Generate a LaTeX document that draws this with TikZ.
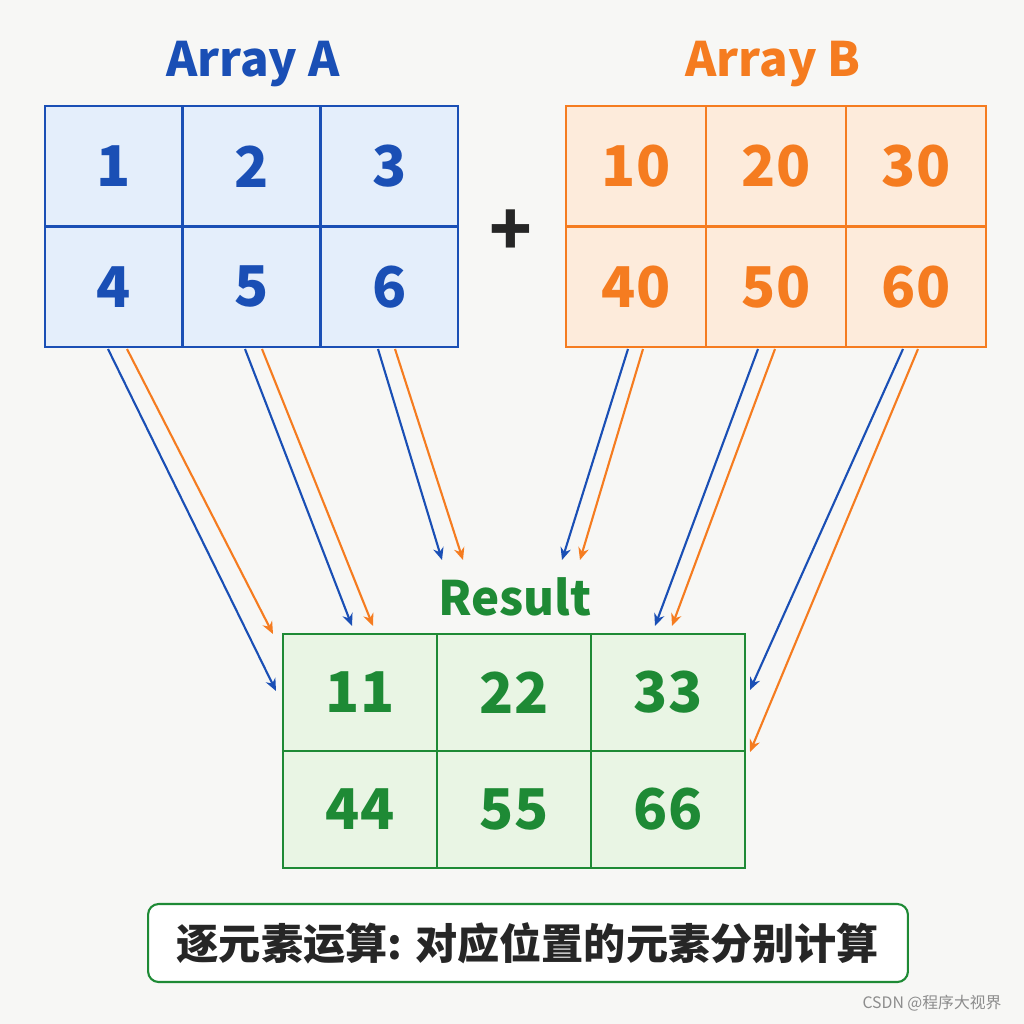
\documentclass[tikz,border=0pt]{standalone}
\usepackage{fontspec}
\usetikzlibrary{arrows.meta}
\setmainfont{Noto Sans CJK SC}
\definecolor{ablue}{HTML}{1A4FB5}
\definecolor{afill}{HTML}{E4EEFB}
\definecolor{borange}{HTML}{F57C20}
\definecolor{bfill}{HTML}{FDEBDB}
\definecolor{rgreen}{HTML}{1E8A35}
\definecolor{rfill}{HTML}{E9F5E4}
\definecolor{bg}{HTML}{F7F7F5}
\tikzset{
  cell/.style={draw, line width=1.4pt, inner sep=0pt, font=\fontsize{32}{32}\selectfont\bfseries},
  acell/.style={cell, ablue, fill=afill, minimum width=2.753cm, minimum height=2.41cm},
  bcell/.style={cell, borange, fill=bfill, minimum width=2.8cm, minimum height=2.41cm},
  rcell/.style={cell, rgreen, fill=rfill, minimum width=3.08cm, minimum height=2.34cm},
  title/.style={font=\fontsize{27}{27}\selectfont\bfseries},
  ar/.style={-{Stealth[length=7pt,width=6pt]}, line width=1.2pt},
}
\begin{document}
\begin{tikzpicture}[x=0.02cm, y=-0.02cm]
\fill[bg] (0,0) rectangle (1024,1024);
\useasboundingbox (0,0) rectangle (1024,1024);
%titles
\node[title, ablue] (ta) at (253,64) {Array A};
\node[title, borange] (tb) at (773,64) {Array B};
\node[title, rgreen] (tr) at (515,597) {Result};
\node[font=\fontsize{40}{40}\selectfont\bfseries, text=black!85] (plus) at (511,233) {+};
%cells
\foreach \v [count=\i from 0] in {1,2,3,4,5,6}{
  \pgfmathtruncatemacro{\c}{mod(\i,3)}
  \pgfmathtruncatemacro{\r}{div(\i,3)}
  \node[acell] (a\i) at ({45+68.85+137.7*\c},{106+60.25+120.5*\r}) {\v};
}
\foreach \v [count=\i from 0] in {10,20,30,40,50,60}{
  \pgfmathtruncatemacro{\c}{mod(\i,3)}
  \pgfmathtruncatemacro{\r}{div(\i,3)}
  \node[bcell] (b\i) at ({566+70+140*\c},{106+60.25+120.5*\r}) {\v};
}
\foreach \v [count=\i from 0] in {11,22,33,44,55,66}{
  \pgfmathtruncatemacro{\c}{mod(\i,3)}
  \pgfmathtruncatemacro{\r}{div(\i,3)}
  \node[rcell] (r\i) at ({283+77+154*\c},{634+58.5+117*\r}) {\v};
}
%arrow ends
\foreach \n/\x/\y in {sa1/108/349, sa2/127/349, sa3/245/349, sa4/262/349, sa5/378/349, sa6/395/349,
  sb1/628/349, sb2/643/349, sb3/758/349, sb4/775/349, sb5/903/349, sb6/918/349,
  ea1/276/691, ea2/273/634, ea3/352/626, ea4/373/626, ea5/442/560, ea6/463/560,
  eb1/562/560, eb2/580/560, eb3/655/626, eb4/672/626, eb5/750/690, eb6/750/752}
  \coordinate (\n) at (\x,\y);
%arrows
\foreach \k in {1,3,5}{
  \draw[ar, ablue] (sa\k) -- (ea\k);
  \draw[ar, ablue] (sb\k) -- (eb\k);
}
\foreach \k in {2,4,6}{
  \draw[ar, borange] (sa\k) -- (ea\k);
  \draw[ar, borange] (sb\k) -- (eb\k);
}
%caption
\node[draw=rgreen, line width=1.2pt, fill=white, rounded corners=6pt, minimum width=15.2cm, minimum height=1.56cm,
  font=\fontsize{24}{24}\selectfont\bfseries, text=black!85] (cap) at (528,943) {逐元素运算: 对应位置的元素分别计算};
\node[font=\fontsize{9}{9}\selectfont, text=black!45] (wm) at (932,1003) {CSDN @程序大视界};
\end{tikzpicture}
\end{document}
